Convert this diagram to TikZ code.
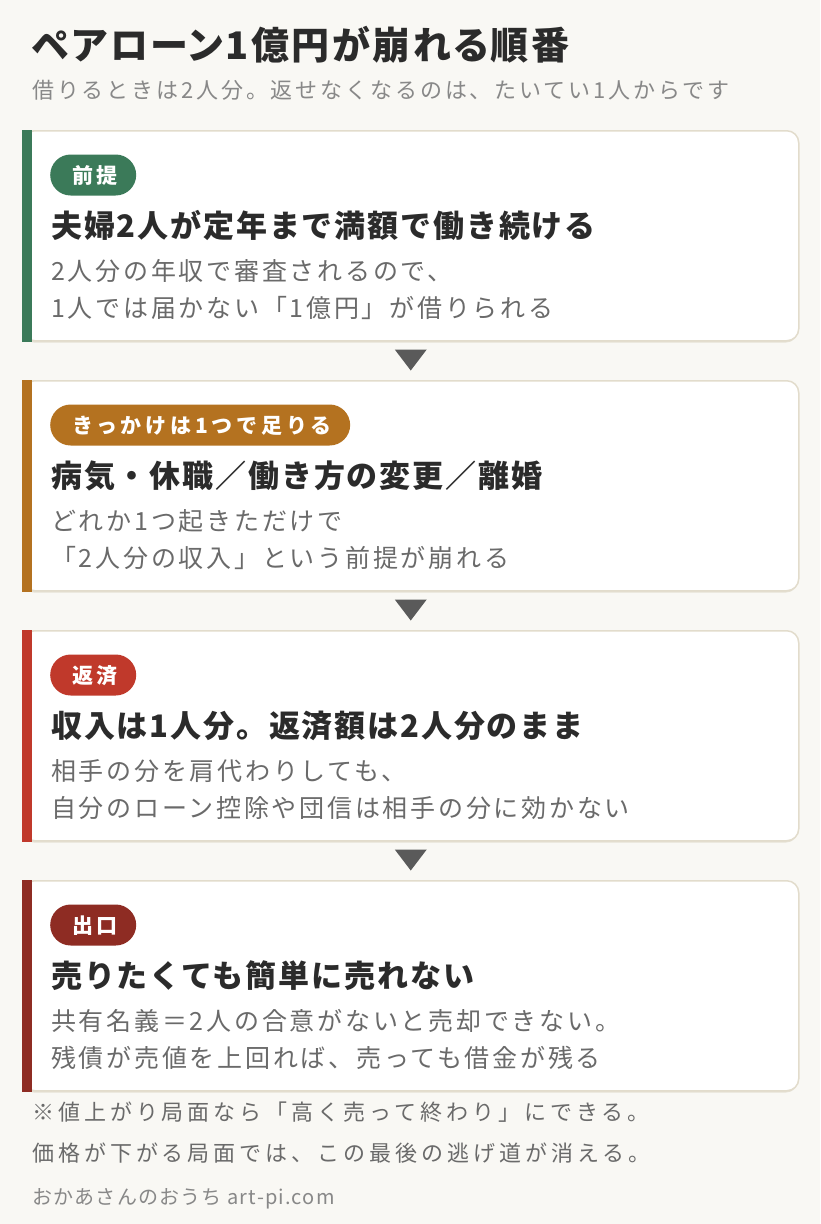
\documentclass[tikz,border=0pt]{standalone}
\usepackage{fontspec}
\setmainfont{Noto Sans CJK JP}
\newfontfamily\fHead[LetterSpace=6.5,RawFeature=+palt]{Noto Sans CJK JP}
\newfontfamily\fSub[LetterSpace=13]{Noto Sans CJK JP}
\newfontfamily\fTitle[LetterSpace=6]{Noto Sans CJK JP}
\newfontfamily\fBody[LetterSpace=11]{Noto Sans CJK JP}
\newfontfamily\fBadge[LetterSpace=18]{Noto Sans CJK JP}
\newfontfamily\fFoot[LetterSpace=18]{Noto Sans CJK JP}
\newfontfamily\fCredit[LetterSpace=6]{Noto Sans CJK JP}
\usetikzlibrary{calc}
\definecolor{bgc}{HTML}{F9F8F4}
\definecolor{borderc}{HTML}{E2DCCC}
\definecolor{shadowc}{HTML}{E6E1D4}
\definecolor{inkc}{HTML}{2B2B2B}
\definecolor{bodyc}{HTML}{6A6A6A}
\definecolor{subc}{HTML}{888888}
\definecolor{arrowc}{HTML}{5A5A5A}
\definecolor{greenc}{HTML}{3B7A59}
\definecolor{orangec}{HTML}{B47220}
\definecolor{redc}{HTML}{C0392B}
\definecolor{darkredc}{HTML}{8E2C23}
\tikzset{
  card/.style={rectangle, draw=borderc, line width=1.5pt, fill=white, rounded corners=12pt,
    minimum width=776pt, minimum height=210pt, inner sep=0pt},
  badge/.style={rectangle, rounded corners=20.5pt, minimum height=41pt, inner xsep=22pt, inner ysep=0pt,
    text height=18.5pt, text depth=2.5pt, text=white, font=\fBadge\bfseries\fontsize{21}{25}\selectfont},
  cardtitle/.style={anchor=base west, inner sep=0pt, text=inkc, font=\fTitle\bfseries\fontsize{31}{36}\selectfont},
  cardbody/.style={anchor=base west, inner sep=0pt, text=bodyc, font=\fBody\fontsize{25}{30}\selectfont},
  downmark/.style={fill=arrowc}
}
\newcommand{\stagecard}[7]{%
  \fill[shadowc, rounded corners=12pt] (22,{#2+2.5}) rectangle (798,{#2+212.5});
  \node[card, anchor=north west] (#1) at (22,#2) {};
  \fill[#3] (#1.north west) rectangle ($(#1.south west)+(10,0)$);
  \node[badge, fill=#3, anchor=west] (#1b) at (50,{#2+45}) {#4\kern-3.8pt};
  \node[cardtitle] (#1t) at (51,{#2+107.8}) {#5};
  \node[cardbody] (#1l) at (51,{#2+150.5}) {#6};
  \node[cardbody] (#1m) at (51,{#2+187.5}) {#7};
}
\newcommand{\downtri}[1]{%
  \fill[downmark] ($(#1.south)+(-16,8)$) -- ($(#1.south)+(16,8)$) -- ($(#1.south)+(0,29)$) -- cycle;
}
\begin{document}
\begin{tikzpicture}[x=1pt,y=-1pt]
\fill[bgc] (0,0) rectangle (820,1224);
\useasboundingbox (0,0) rectangle (820,1224);

\node[anchor=base west, inner sep=0pt, text=inkc, font=\fHead\bfseries\fontsize{38}{44}\selectfont] (head) at (32,59.4) {ペアローン1億円が崩れる順番};
\node[anchor=base west, inner sep=0pt, text=subc, font=\fSub\fontsize{22}{26}\selectfont] (sub) at (32,98.4) {借りるときは2人分。返せなくなるのは、たいてい1人からです};

\stagecard{c1}{130}{greenc}{前提}{夫婦2人が定年まで満額で働き続ける}{2人分の年収で審査されるので、}{1人では届かない「1億円」が借りられる}
\stagecard{c2}{380}{orangec}{きっかけは1つで足りる}{病気・休職／働き方の変更／離婚}{どれか1つ起きただけで}{「2人分の収入」という前提が崩れる}
\stagecard{c3}{630}{redc}{返済}{収入は1人分。返済額は2人分のまま}{相手の分を肩代わりしても、}{自分のローン控除や団信は相手の分に効かない}
\stagecard{c4}{880}{darkredc}{出口}{売りたくても簡単に売れない}{共有名義＝2人の合意がないと売却できない。}{残債が売値を上回れば、売っても借金が残る}

\downtri{c1}
\downtri{c2}
\downtri{c3}

\node[anchor=base west, inner sep=0pt, text=bodyc, font=\fFoot\fontsize{22}{26}\selectfont] (f1) at (32,1120.4) {※値上がり局面なら「高く売って終わり」にできる。};
\node[anchor=base west, inner sep=0pt, text=bodyc, font=\fFoot\fontsize{22}{26}\selectfont] (f2) at (32,1161.4) {価格が下がる局面では、この最後の逃げ道が消える。};
\node[anchor=base west, inner sep=0pt, text=subc, font=\fCredit\fontsize{20}{24}\selectfont] (credit) at (32,1204) {おかあさんのおうち art-pi.com};
\end{tikzpicture}
\end{document}
